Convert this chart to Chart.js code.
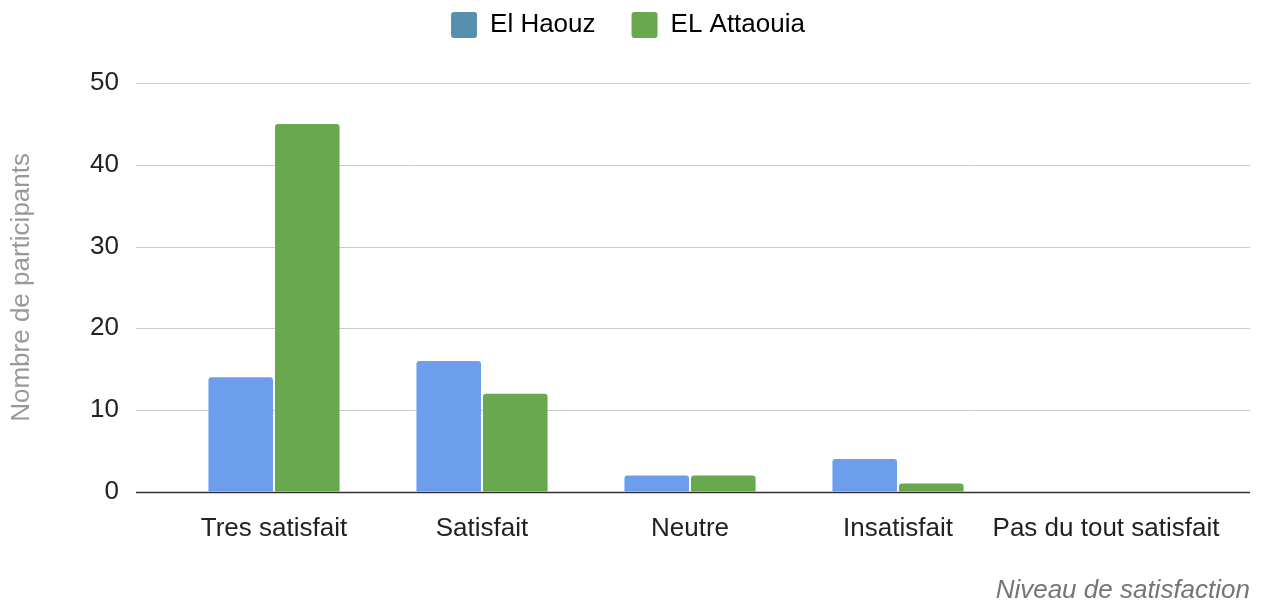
<!DOCTYPE html>
<html>
<head>
<meta charset="utf-8">
<script src="https://cdn.jsdelivr.net/npm/chart.js@4.4.0/dist/chart.umd.min.js"></script>
<style>
  html, body { margin: 0; padding: 0; background: #fff; }
  #wrap { width: 1264px; height: 602px; }
</style>
</head>
<body>
<div id="wrap"><canvas id="chart" width="1264" height="602"></canvas></div>
<script>
// chart data
const categories = ['Tres satisfait', 'Satisfait', 'Neutre', 'Insatisfait', 'Pas du tout satisfait'];
const elHaouz = [14, 16, 2, 4, 0];
const elAttaouia = [45, 12, 2, 1, 0];
const yTicks = [0, 10, 20, 30, 40, 50];

const FONT = "'Liberation Sans', Arial, sans-serif";

// grid lines run wider than the category band (like the original)
const gridPlugin = {
  id: 'wideGrid',
  beforeDatasetsDraw(chart) {
    const ctx = chart.ctx;
    const y = chart.scales.y;
    const left = 136, right = 1250;
    ctx.save();
    yTicks.forEach(v => {
      const py = Math.round(y.getPixelForValue(v)) + 0.5;
      ctx.beginPath();
      ctx.strokeStyle = v === 0 ? '#333333' : '#cccccc';
      ctx.lineWidth = v === 0 ? 1.5 : 1;
      ctx.moveTo(left, py);
      ctx.lineTo(right, py);
      ctx.stroke();
    });
    ctx.restore();
  }
};

// extra space under the legend
const legendGap = {
  id: 'legendGap',
  afterInit(chart) {
    const fit = chart.legend.fit;
    chart.legend.fit = function () {
      fit.bind(chart.legend)();
      this.height += 35;
    };
  }
};

new Chart(document.getElementById('chart').getContext('2d'), {
  type: 'bar',
  data: {
    labels: categories,
    datasets: [
      {
        label: 'El Haouz',
        data: elHaouz,
        backgroundColor: '#6d9eeb',
        legendColor: '#5790ae',
        borderRadius: { topLeft: 3, topRight: 3 },
        borderSkipped: 'bottom',
        categoryPercentage: 0.64,
        barPercentage: 0.97
      },
      {
        label: 'EL Attaouia',
        data: elAttaouia,
        backgroundColor: '#6aa84f',
        legendColor: '#6aa84f',
        borderRadius: { topLeft: 3, topRight: 3 },
        borderSkipped: 'bottom',
        categoryPercentage: 0.64,
        barPercentage: 0.97
      }
    ]
  },
  options: {
    responsive: false,
    animation: false,
    layout: { padding: { left: 6, right: 14, top: -24, bottom: -4 } },
    plugins: {
      tooltip: { enabled: false },
      legend: {
        position: 'top',
        labels: {
          font: { family: FONT, size: 26 },
          color: '#222',
          boxWidth: 26,
          boxHeight: 26,
          padding: 36,
          generateLabels(chart) {
            return chart.data.datasets.map((ds, i) => ({
              text: ds.label,
              fillStyle: ds.legendColor,
              strokeStyle: ds.legendColor,
              lineWidth: 0,
              borderRadius: 3,
              datasetIndex: i
            }));
          }
        }
      },
      title: {
        display: true,
        position: 'bottom',
        align: 'end',
        text: 'Niveau de satisfaction',
        color: '#757575',
        font: { family: FONT, size: 26, style: 'italic', weight: 'normal' },
        padding: { top: 0, bottom: 0 }
      }
    },
    scales: {
      x: {
        grid: { display: false },
        border: { display: false },
        afterFit(scale) { scale.height = 83; },
        ticks: { font: { family: FONT, size: 26 }, color: '#222', padding: 13, maxRotation: 0, autoSkip: false }
      },
      y: {
        min: 0,
        max: 50,
        afterBuildTicks(scale) { scale.ticks = yTicks.map(v => ({ value: v })); },
        afterFit(scale) { scale.width = 164; },
        grid: { display: false },
        border: { display: false },
        ticks: { font: { family: FONT, size: 26 }, color: '#222', padding: 43 },
        title: {
          display: true,
          text: 'Nombre de participants',
          color: '#999999',
          font: { family: FONT, size: 26 },
          padding: { top: 0, bottom: 0 }
        }
      },
      // empty axis that keeps the bars clear of the right edge
      yRight: {
        position: 'right',
        grid: { display: false },
        border: { display: false },
        ticks: { display: false },
        afterFit(scale) { scale.width = 40; }
      }
    }
  },
  plugins: [gridPlugin, legendGap]
});
</script>
</body>
</html>
